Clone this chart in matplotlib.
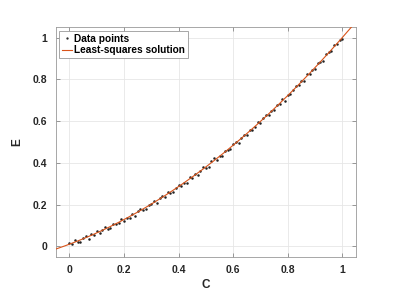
import numpy as np
import matplotlib.pyplot as plt

# concentration values and measured values
C = [0.00, 0.01, 0.02, 0.03, 0.04, 0.05, 0.06, 0.07, 0.08, 0.09,
     0.10, 0.11, 0.12, 0.13, 0.14, 0.15, 0.16, 0.17, 0.18, 0.19,
     0.20, 0.21, 0.22, 0.23, 0.24, 0.25, 0.26, 0.27, 0.28, 0.29,
     0.30, 0.31, 0.32, 0.33, 0.34, 0.35, 0.36, 0.37, 0.38, 0.39,
     0.40, 0.41, 0.42, 0.43, 0.44, 0.45, 0.46, 0.47, 0.48, 0.49,
     0.50, 0.51, 0.52, 0.53, 0.54, 0.55, 0.56, 0.57, 0.58, 0.59,
     0.60, 0.61, 0.62, 0.63, 0.64, 0.65, 0.66, 0.67, 0.68, 0.69,
     0.70, 0.71, 0.72, 0.73, 0.74, 0.75, 0.76, 0.77, 0.78, 0.79,
     0.80, 0.81, 0.82, 0.83, 0.84, 0.85, 0.86, 0.87, 0.88, 0.89,
     0.90, 0.91, 0.92, 0.93, 0.94, 0.95, 0.96, 0.97, 0.98, 0.99, 1.00]
E = [0.015, 0.010, 0.030, 0.023, 0.023, 0.039, 0.049, 0.038, 0.058, 0.057,
     0.073, 0.064, 0.080, 0.094, 0.084, 0.087, 0.108, 0.110, 0.111, 0.132,
     0.121, 0.138, 0.137, 0.157, 0.146, 0.169, 0.181, 0.177, 0.180, 0.200,
     0.202, 0.219, 0.210, 0.230, 0.241, 0.238, 0.262, 0.258, 0.261, 0.282,
     0.294, 0.290, 0.306, 0.304, 0.332, 0.328, 0.347, 0.344, 0.363, 0.379,
     0.378, 0.381, 0.407, 0.422, 0.416, 0.434, 0.434, 0.459, 0.461, 0.468,
     0.493, 0.499, 0.496, 0.519, 0.534, 0.533, 0.560, 0.559, 0.574, 0.597,
     0.589, 0.613, 0.628, 0.629, 0.649, 0.651, 0.678, 0.681, 0.706, 0.698,
     0.726, 0.729, 0.749, 0.769, 0.773, 0.793, 0.792, 0.825, 0.825, 0.845,
     0.849, 0.876, 0.883, 0.890, 0.922, 0.929, 0.936, 0.963, 0.967, 0.989, 0.994]
ticks = [0, 0.2, 0.4, 0.6, 0.8, 1]
tick_labels = ['0', '0.2', '0.4', '0.6', '0.8', '1']

plt.rcParams['font.family'] = ['Liberation Sans', 'DejaVu Sans']
plt.rcParams['font.weight'] = 'bold'

# least-squares quadratic fit
coef = np.polyfit(C, E, 2)
xx = np.linspace(-0.05, 1.05, 200)
yy = np.polyval(coef, xx)

fig = plt.figure(figsize=(3.99, 2.95), dpi=100)
ax = fig.add_axes([0.140, 0.129, 0.752, 0.779])

ax.plot(C, E, '.', color='#222222', markersize=1.6, label='Data points', zorder=3)
ax.plot(xx, yy, '-', color='#D95319', linewidth=0.8, label='Least-squares solution', zorder=4)

ax.set_xlim(-0.05, 1.05)
ax.set_ylim(-0.05, 1.05)
ax.set_xticks(ticks)
ax.set_xticklabels(tick_labels)
ax.set_yticks(ticks)
ax.set_yticklabels(tick_labels)
ax.grid(True, color='#e6e6e6', linewidth=0.6)
ax.set_axisbelow(True)
ax.tick_params(direction='in', length=3, width=0.6, colors='#888888',
               labelcolor='#262626', labelsize=7.5, top=True, right=True, pad=6)
for s in ax.spines.values():
    s.set_color('#999999')
    s.set_linewidth(0.6)

ax.set_xlabel('C', fontsize=8.5, fontweight='bold', color='#262626', labelpad=3)
ax.set_ylabel('E', fontsize=8.5, fontweight='bold', color='#262626', labelpad=7)

leg = ax.legend(loc='upper left', fontsize=7.3, handlelength=0.9, handletextpad=0.2,
                borderpad=0.3, labelspacing=0.15, fancybox=False, framealpha=1,
                borderaxespad=0.35, markerscale=0.8)
leg.get_frame().set_edgecolor('#999999')
leg.get_frame().set_linewidth(0.6)

fig.savefig('out.png', dpi=100)
